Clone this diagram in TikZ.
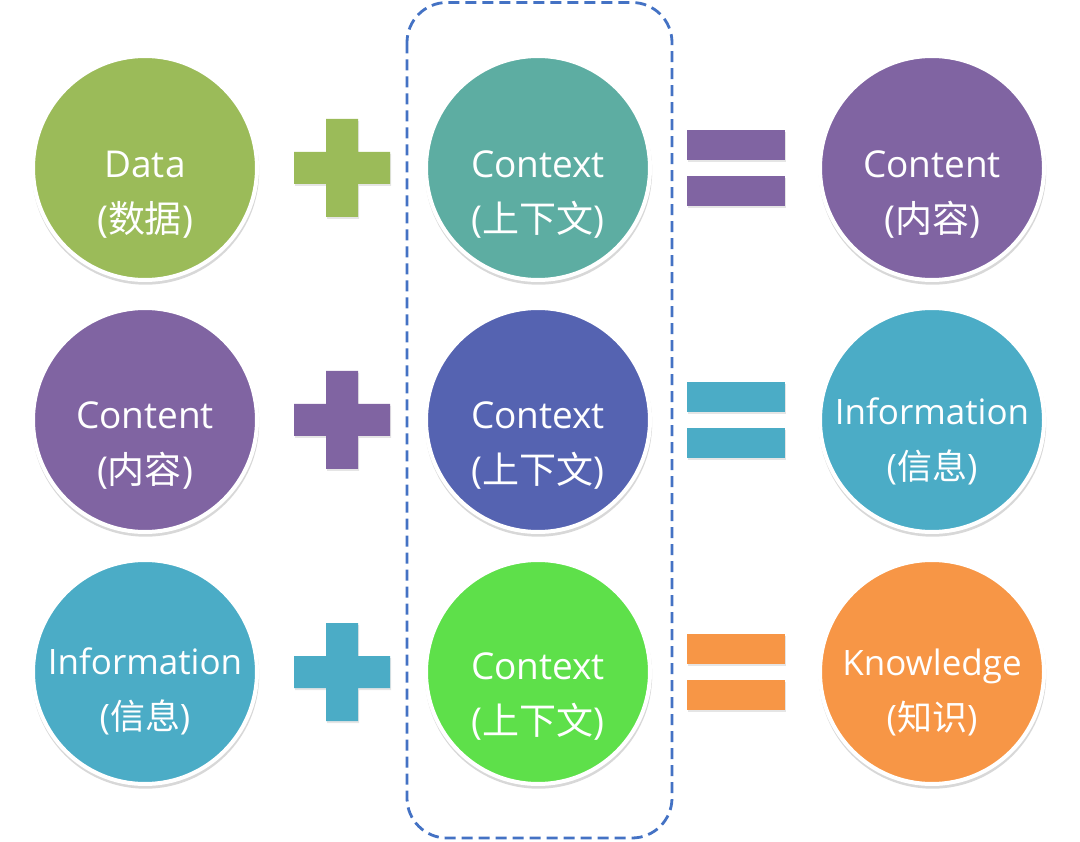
\documentclass[tikz,border=0pt]{standalone}
\usepackage{fontspec}
\setmainfont{Open Sans}
\newfontfamily\cjk{Noto Sans CJK SC}
\usetikzlibrary{shadows,calc}
\definecolor{cgreen}{HTML}{9BBB59}
\definecolor{cteal}{HTML}{5DADA2}
\definecolor{cpurple}{HTML}{8064A2}
\definecolor{cindigo}{HTML}{5563B1}
\definecolor{ccyan}{HTML}{4BACC6}
\definecolor{clime}{HTML}{5EE04A}
\definecolor{corange}{HTML}{F79646}
\definecolor{cdash}{HTML}{4472C4}
\begin{document}
\begin{tikzpicture}[x=1pt,y=-1pt,
  ball/.style={circle, minimum size=224pt, inner sep=0pt, fill=#1, draw=white, line width=4pt,
    drop shadow={opacity=0.3, shadow xshift=0.5pt, shadow yshift=-3pt, shadow scale=1.015}},
  lbl/.style={text=white, align=center, font=\fontsize{37}{55}\selectfont, inner sep=0pt},
  lblw/.style={lbl, font=\fontsize{35}{55}\selectfont},
  sym/.style={fill=#1, drop shadow={opacity=0.2, shadow xshift=1pt, shadow yshift=-2pt}},
  groupbox/.style={draw=cdash, line width=2.8pt, dash pattern=on 11pt off 6pt, rounded corners=40pt},
  pics/plusmark/.style={code={
    \fill[sym=#1] (-48,-16) -- (-16,-16) -- (-16,-49) -- (16,-49) -- (16,-16) -- (48,-16)
      -- (48,16) -- (16,16) -- (16,49) -- (-16,49) -- (-16,16) -- (-48,16) -- cycle;}},
  pics/eqmark/.style={code={
    \fill[sym=#1] (-49,-38) rectangle (49,-8);
    \fill[sym=#1] (-49,8) rectangle (49,38);}}
]
\useasboundingbox (0,0) rectangle (1080,842);
\fill[white] (0,0) rectangle (1080,842);

% group frame
\draw[groupbox] (407,2.5) rectangle (672,838);

% row 1
\node[ball=cgreen]  (data)  at (145,168) {};
\node[ball=cteal]   (ctxA)  at (538,168) {};
\node[ball=cpurple] (contR) at (932,168) {};
\node[lbl] (data-t)  at ($(data.center)+(0,27)$)  {Data\\({\cjk 数据})};
\node[lbl] (ctxA-t)  at ($(ctxA.center)+(0,27)$)  {Context\\({\cjk 上下文})};
\node[lbl] (contR-t) at ($(contR.center)+(0,27)$) {Content\\({\cjk 内容})};
\pic at (342,168) {plusmark=cgreen};
\pic at (736,168) {eqmark=cpurple};

% row 2
\node[ball=cpurple] (contL) at (145,420) {};
\node[ball=cindigo] (ctxB)  at (538,420) {};
\node[ball=ccyan]   (infoR) at (932,420) {};
\node[lbl]  (contL-t) at ($(contL.center)+(0,26)$) {Content\\({\cjk 内容})};
\node[lbl]  (ctxB-t)  at ($(ctxB.center)+(0,26)$)  {Context\\({\cjk 上下文})};
\node[lblw] (infoR-t) at ($(infoR.center)+(0,21)$) {Information\\({\cjk 信息})};
\pic at (342,420) {plusmark=cpurple};
\pic at (736,420) {eqmark=ccyan};

% row 3
\node[ball=ccyan]   (infoL) at (145,672) {};
\node[ball=clime]   (ctxC)  at (538,672) {};
\node[ball=corange] (know)  at (932,672) {};
\node[lblw] (infoL-t) at ($(infoL.center)+(0,19)$) {Information\\({\cjk 信息})};
\node[lbl]  (ctxC-t)  at ($(ctxC.center)+(0,25)$)  {Context\\({\cjk 上下文})};
\node[lblw] (know-t)  at ($(know.center)+(0,20)$)  {Knowledge\\({\cjk 知识})};
\pic at (342,672) {plusmark=ccyan};
\pic at (736,672) {eqmark=corange};
\end{tikzpicture}
\end{document}
